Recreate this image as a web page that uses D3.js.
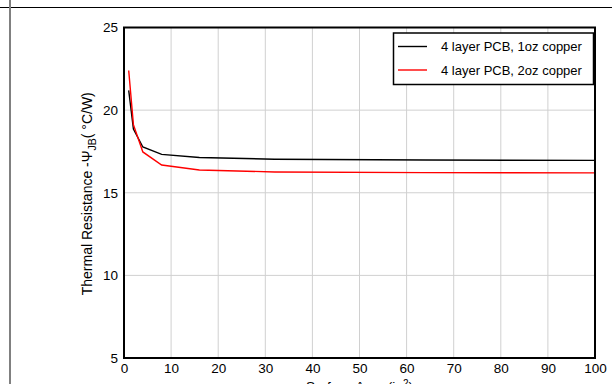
<!DOCTYPE html>
<html>
<head>
<meta charset="utf-8">
<script src="https://cdn.jsdelivr.net/npm/d3@7"></script>
<style>
  html, body { margin: 0; padding: 0; background: #fff; }
  svg { display: block; font-family: "Liberation Sans", Arial, sans-serif; }
</style>
</head>
<body>
<svg id="chart" width="612" height="384"></svg>
<script>
// Surface area (in²) at which psi-JB was evaluated
const area = [1, 2, 4, 8, 16, 32, 64, 100];
// Thermal resistance psi-JB (°C/W) for each board build
const oz1 = [21.2, 18.86, 17.77, 17.32, 17.13, 17.03, 16.98, 16.96];
const oz2 = [22.4, 19.12, 17.47, 16.68, 16.38, 16.26, 16.22, 16.2];
const seriesNames = ["4 layer PCB, 1oz copper", "4 layer PCB, 2oz copper"];
const seriesColors = ["#000000", "#ff0000"];
const xTicks = [0, 10, 20, 30, 40, 50, 60, 70, 80, 90, 100];
const yTicks = [5, 10, 15, 20, 25];

const svg = d3.select("#chart");
const plot = { left: 124, right: 595, top: 27.5, bottom: 358 };

// page frame lines
svg.append("line").attr("x1", 0).attr("x2", 612).attr("y1", 7.5).attr("y2", 7.5)
  .attr("stroke", "#000").attr("stroke-width", 1);
svg.append("line").attr("x1", 10).attr("x2", 10).attr("y1", 0).attr("y2", 384)
  .attr("stroke", "#808080").attr("stroke-width", 2);

const x = d3.scaleLinear().domain([0, 100]).range([plot.left, plot.right]);
const y = d3.scaleLinear().domain([5, 25]).range([plot.bottom, plot.top]);

// grid
const grid = svg.append("g").attr("stroke", "#d0d0d0").attr("stroke-width", 1);
grid.selectAll(".gx").data(xTicks.slice(1, -1)).join("line")
  .attr("x1", d => x(d)).attr("x2", d => x(d))
  .attr("y1", plot.top).attr("y2", plot.bottom);
grid.selectAll(".gy").data(yTicks.slice(1, -1)).join("line")
  .attr("x1", plot.left).attr("x2", plot.right)
  .attr("y1", d => y(d)).attr("y2", d => y(d));

// axes (tick labels only)
const xAxis = svg.append("g").attr("transform", `translate(0,${plot.bottom})`)
  .call(d3.axisBottom(x).tickValues(xTicks).tickSize(0).tickPadding(5));
xAxis.select(".domain").remove();
xAxis.selectAll("text").attr("font-size", 13.5).attr("fill", "#000")
  .attr("font-family", "Liberation Sans, Arial, sans-serif");

const yAxis = svg.append("g").attr("transform", `translate(${plot.left},0)`)
  .call(d3.axisLeft(y).tickValues(yTicks).tickSize(0).tickPadding(6));
yAxis.select(".domain").remove();
yAxis.selectAll("text").attr("font-size", 13.5).attr("fill", "#000")
  .attr("font-family", "Liberation Sans, Arial, sans-serif");

// data lines
const line = d3.line().x(d => x(d[0])).y(d => y(d[1]));
[oz1, oz2].forEach((vals, i) => {
  svg.append("path")
    .datum(area.map((a, j) => [a, vals[j]]))
    .attr("d", line)
    .attr("fill", "none")
    .attr("stroke", seriesColors[i])
    .attr("stroke-width", 1.4);
});

// plot frame
svg.append("rect")
  .attr("x", plot.left).attr("y", plot.top)
  .attr("width", plot.right - plot.left).attr("height", plot.bottom - plot.top)
  .attr("fill", "none").attr("stroke", "#000").attr("stroke-width", 2);

// legend
const lg = svg.append("g");
lg.append("rect").attr("x", 393.5).attr("y", 33).attr("width", 200).attr("height", 51.5)
  .attr("fill", "#fff").attr("stroke", "#000").attr("stroke-width", 1.5);
seriesNames.forEach((name, i) => {
  const ly = 46.5 + i * 23.5;
  lg.append("line").attr("x1", 398).attr("x2", 427).attr("y1", ly).attr("y2", ly)
    .attr("stroke", seriesColors[i]).attr("stroke-width", 1.4);
  lg.append("text").attr("x", 441).attr("y", ly + 4.5)
    .attr("font-size", 13).attr("fill", "#000").text(name);
});

// axis titles
const yt = svg.append("text")
  .attr("transform", `translate(92,${(plot.top + plot.bottom) / 2 + 1}) rotate(-90)`)
  .attr("text-anchor", "middle").attr("font-size", 14).attr("fill", "#000");
yt.append("tspan").text("Thermal Resistance -\u03A8");
yt.append("tspan").attr("font-size", 10.5).attr("dy", 4).text("JB");
yt.append("tspan").attr("dy", -4).text("( \u00B0C/W)");

const xt = svg.append("text")
  .attr("x", (plot.left + plot.right) / 2).attr("y", 391)
  .attr("text-anchor", "middle").attr("font-size", 13.5).attr("fill", "#000");
xt.append("tspan").text("Surface Area (in");
xt.append("tspan").attr("font-size", 10).attr("dy", -4.5).text("2");
xt.append("tspan").attr("dy", 4.5).text(")");
</script>
</body>
</html>
